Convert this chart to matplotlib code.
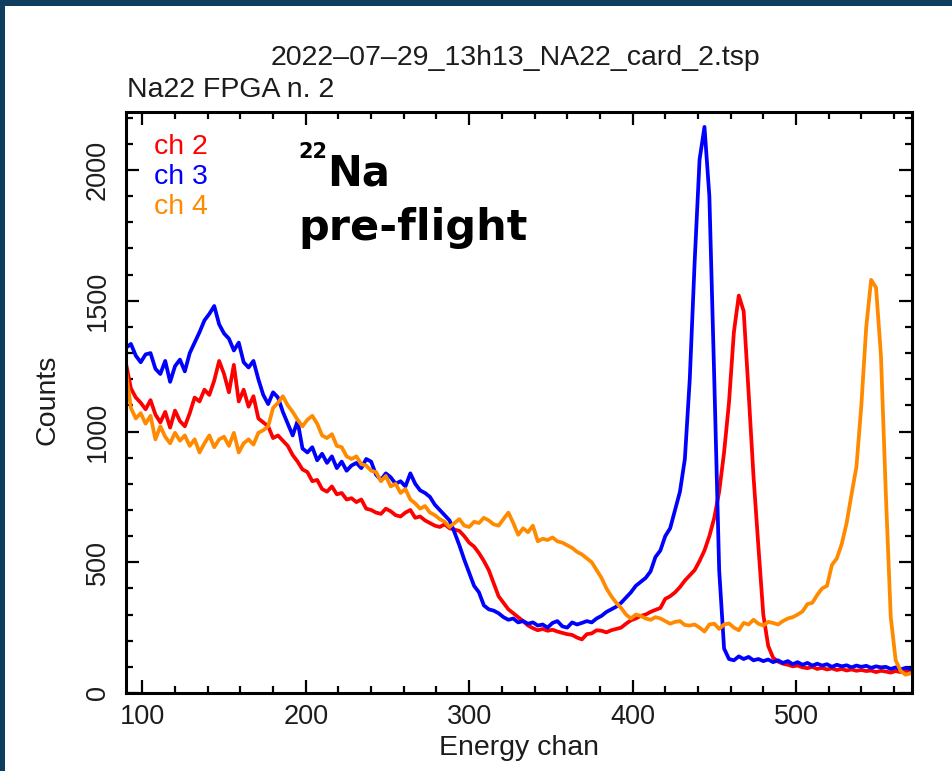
import numpy as np
import matplotlib
matplotlib.use("Agg")
import matplotlib.pyplot as plt
from matplotlib.patches import Rectangle
from matplotlib.ticker import MultipleLocator

# energy channel grid (every 3rd channel, 90 .. 570)
chan = np.arange(90, 571, 3)

ch2 = [1260, 1165, 1130, 1110, 1085, 1120, 1065, 1035, 1075, 1015,
       1080, 1040, 1020, 1070, 1130, 1115, 1160, 1140, 1195, 1270,
       1220, 1150, 1255, 1115, 1160, 1095, 1135, 1050, 1035, 1020,
       975, 985, 965, 945, 910, 885, 855, 845, 810, 815,
       780, 770, 790, 760, 765, 740, 745, 730, 740, 705,
       700, 690, 685, 705, 695, 680, 675, 690, 700, 670,
       675, 660, 650, 640, 635, 645, 630, 625, 620, 600,
       575, 560, 535, 505, 470, 420, 370, 345, 320, 305,
       290, 275, 258, 248, 240, 245, 238, 242, 235, 230,
       225, 222, 212, 205, 225, 228, 240, 238, 232, 240,
       245, 250, 265, 278, 285, 295, 300, 310, 318, 325,
       360, 370, 385, 405, 430, 450, 470, 505, 545, 600,
       670, 770, 920, 1110, 1380, 1520, 1460, 1150, 830, 560,
       300, 180, 135, 120, 112, 108, 102, 105, 98, 95,
       100, 92, 96, 90, 94, 88, 92, 86, 90, 85,
       88, 84, 86, 80, 85, 82, 78, 84, 80, 82,
       80]

ch3 = [1320, 1335, 1290, 1265, 1295, 1300, 1240, 1220, 1270, 1190,
       1250, 1275, 1230, 1300, 1340, 1380, 1425, 1450, 1480, 1410,
       1375, 1355, 1310, 1340, 1265, 1245, 1270, 1200, 1140, 1105,
       1150, 1130, 1075, 1030, 985, 1040, 935, 920, 940, 890,
       915, 880, 905, 860, 885, 850, 870, 880, 860, 895,
       885, 835, 815, 840, 825, 800, 810, 790, 840, 800,
       775, 765, 750, 720, 700, 680, 660, 615, 565, 510,
       460, 410, 385, 335, 320, 315, 305, 290, 280, 285,
       270, 275, 265, 270, 258, 262, 250, 268, 275, 255,
       250, 270, 262, 268, 275, 270, 285, 295, 310, 320,
       330, 345, 365, 385, 410, 425, 440, 465, 520, 545,
       600, 630, 700, 770, 895, 1200, 1650, 2040, 2165, 1900,
       1200, 470, 170, 130, 125, 140, 130, 138, 125, 130,
       122, 128, 118, 125, 115, 122, 110, 118, 108, 115,
       105, 112, 105, 110, 100, 108, 102, 106, 98, 105,
       100, 104, 96, 102, 98, 100, 92, 98, 90, 96,
       92]

ch4 = [1230, 1090, 1050, 1070, 1030, 1060, 970, 1020, 980, 955,
       995, 965, 985, 945, 970, 920, 955, 985, 940, 970,
       980, 945, 995, 920, 955, 970, 950, 995, 1005, 1020,
       1090, 1110, 1135, 1100, 1075, 1045, 1020, 1045, 1060, 1030,
       985, 975, 990, 945, 940, 905, 895, 905, 875, 870,
       850, 845, 810, 830, 790, 800, 765, 780, 740, 725,
       705, 715, 690, 680, 665, 655, 635, 650, 665, 640,
       635, 655, 650, 670, 660, 645, 640, 665, 690, 650,
       605, 630, 615, 640, 580, 590, 585, 595, 580, 575,
       565, 555, 540, 530, 515, 500, 470, 440, 400, 370,
       345, 325, 300, 285, 300, 295, 285, 280, 290, 285,
       275, 265, 272, 275, 260, 258, 262, 250, 235, 262,
       265, 245, 262, 266, 250, 240, 268, 262, 280, 265,
       258, 272, 268, 262, 275, 285, 290, 300, 312, 340,
       345, 375, 400, 410, 490, 515, 570, 650, 760, 865,
       1100, 1400, 1580, 1550, 1290, 760, 290, 125, 85, 70,
       75]

labels = ["ch 2", "ch 3", "ch 4"]
colors = ["#ff0000", "#0000ff", "#ff8a00"]

W, H = 952, 771
fig = plt.figure(figsize=(W / 100, H / 100), dpi=100)
fig.patch.set_facecolor("#0e3d5d")
fig.patches.append(Rectangle((5 / W, 0), 1, (H - 6) / H, transform=fig.transFigure,
                             facecolor="white", edgecolor="none", zorder=-5))

def fx(px):
    return px / W

def fy(py):
    return 1 - py / H

ax = fig.add_axes([fx(126), fy(693), fx(912) - fx(126), fy(112) - fy(693)])
ax.set_facecolor("white")

for y, c in zip([ch2, ch3, ch4], colors):
    ax.plot(chan, y, color=c, lw=2.7, solid_joinstyle="round")

ax.set_xlim(90, 571)
ax.set_ylim(0, 2222)

txt = "#1c1c1c"
font = "Liberation Sans"
fs = 20.5
ax.xaxis.set_major_locator(MultipleLocator(100))
ax.xaxis.set_minor_locator(MultipleLocator(20))
ax.yaxis.set_major_locator(MultipleLocator(500))
ax.yaxis.set_minor_locator(MultipleLocator(100))
ax.tick_params(which="both", direction="in", top=True, right=True, width=1.6, color="black")
ax.tick_params(which="major", length=9.5)
ax.tick_params(which="minor", length=5)
ax.tick_params(axis="x", which="major", pad=8, labelsize=19.5, labelcolor=txt)
ax.tick_params(axis="y", which="major", pad=11, labelsize=19.5, labelcolor=txt)
for lab in ax.get_xticklabels() + ax.get_yticklabels():
    lab.set_fontfamily(font)
for lab in ax.get_yticklabels():
    lab.set_rotation(90)
    lab.set_va("center")
for s in ax.spines.values():
    s.set_linewidth(2.2)

fig.text(fx(48), fy(400), "Counts", rotation=90, ha="center", va="center",
         fontsize=fs, color=txt, family=font)
fig.text(fx(519), fy(748), "Energy chan", ha="center", va="center",
         fontsize=fs, color=txt, family=font)
fig.text(fx(515), fy(58), "2022\u201307\u201329_13h13_NA22_card_2.tsp", ha="center", va="center",
         fontsize=fs, color=txt, family=font)
fig.text(fx(127), fy(90), "Na22 FPGA n. 2", ha="left", va="center",
         fontsize=fs, color=txt, family=font)

for i, (lb, c) in enumerate(zip(labels, colors)):
    fig.text(fx(154), fy(147 + 30 * i), lb, ha="left", va="center",
             fontsize=fs, color=c, family=font)

bold = dict(family="DejaVu Sans", fontweight="bold", color="black")
fig.text(fx(298), fy(158), "22", ha="left", va="baseline", fontsize=15, **bold)
fig.text(fx(327), fy(185), "Na", ha="left", va="baseline", fontsize=30, **bold)
fig.text(fx(298), fy(240), "pre-flight", ha="left", va="baseline", fontsize=31, **bold)

fig.savefig("out.png", dpi=100, facecolor=fig.get_facecolor())
